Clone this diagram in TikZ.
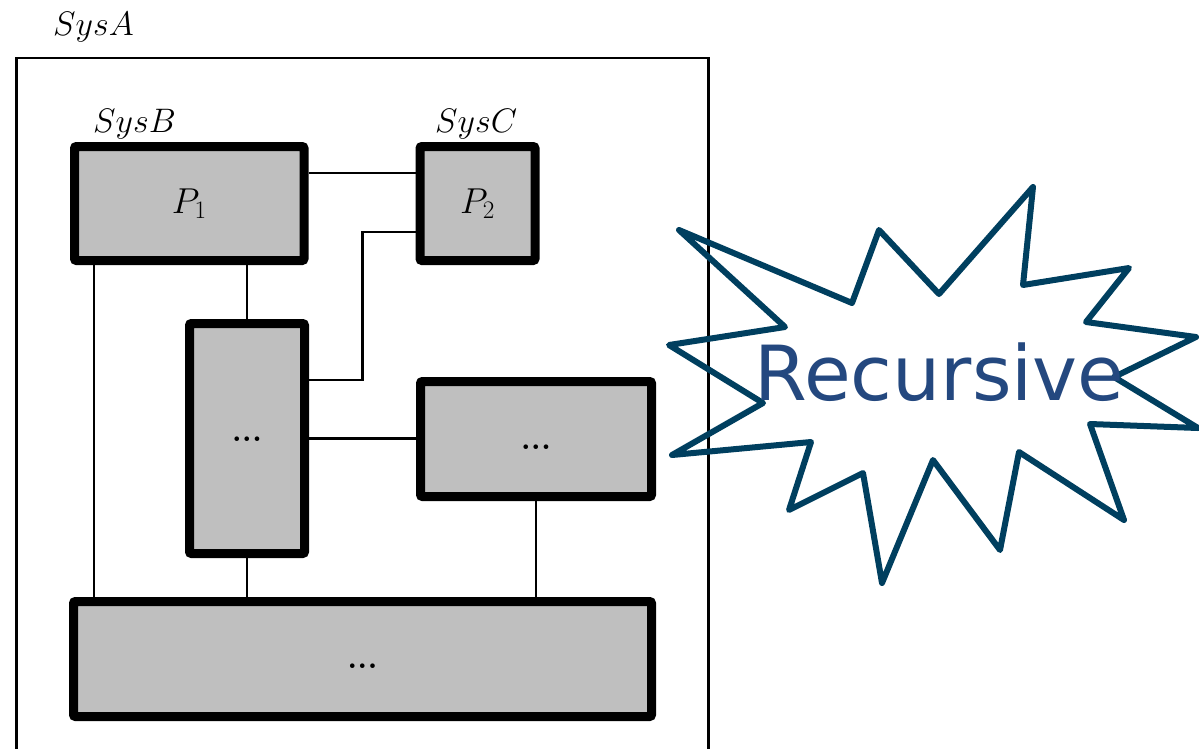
\RequirePackage{fix-cm}
\documentclass[tikz,border=0pt]{standalone}
\usepackage{fontspec}
\newfontfamily\bangfont{DejaVu Sans}
\definecolor{blockfill}{HTML}{BFBFBF}
\definecolor{bangline}{HTML}{003F5F}
\definecolor{bangtext}{HTML}{24487F}
\tikzset{
  frame/.style={draw=black, line width=2.6pt, inner sep=0pt},
  block/.style={draw=black, line width=9pt, fill=blockfill, rounded corners=2pt, inner sep=0pt},
  link/.style={draw=black, line width=2.8pt},
  syslabel/.style={anchor=base west, inner sep=0pt, font=\fontsize{34}{40}\selectfont},
  plabel/.style={font=\fontsize{36}{42}\selectfont},
  dotlabel/.style={font=\bfseries\fontsize{32}{40}\selectfont},
  bang/.style={draw=bangline, line width=6pt, line join=round},
}
\newcommand{\lowdots}[1]{\raisebox{-#1}[0pt][0pt]{...}}
\begin{document}
\begin{tikzpicture}[x=1pt,y=-1pt]
\useasboundingbox (0,0) rectangle (1199,748);

% enclosing system
\node[frame, minimum width=692pt, minimum height=694pt] (sysA) at (362.5,405) {};
\node[syslabel] (labA) at (53,35) {$SysA$};

% subsystems and components
\node[block, plabel, minimum width=229.5pt, minimum height=114pt] (p1) at (189.25,203.5) {$P_1$};
\node[block, plabel, minimum width=115pt, minimum height=114pt] (p2) at (477.5,203.5) {$P_2$};
\node[block, dotlabel, minimum width=115pt, minimum height=230pt] (mid) at (247,438.5) {\lowdots{3pt}};
\node[block, dotlabel, minimum width=231pt, minimum height=115pt] (right) at (536,439) {\lowdots{10pt}};
\node[block, dotlabel, minimum width=578pt, minimum height=115pt] (base) at (362.5,659) {\lowdots{9pt}};
\node[syslabel] (labB) at (93,132) {$SysB$};
\node[syslabel] (labC) at (435,132) {$SysC$};

% wiring
\coordinate (yTop) at (0,173);
\coordinate (yLow) at (0,232);
\coordinate (yMid) at (0,380);
\coordinate (bendX) at (362.5,0);
\coordinate (xLeft) at (94,0);
\draw[link] (p1.east |- yTop) -- (p2.west |- yTop);
\draw[link] (p2.west |- yLow) -| (bendX |- yMid) -- (mid.east |- yMid);
\draw[link] (mid.north) -- (mid.north |- p1.south);
\draw[link] (xLeft |- p1.south) -- (xLeft |- base.north);
\draw[link] (mid.east) -- (mid.east -| right.west);
\draw[link] (mid.south) -- (mid.south |- base.north);
\draw[link] (right.south) -- (right.south |- base.north);

% explosion callout
\draw[bang] (679,230) -- (852,303) -- (879,230) -- (939,294) -- (1033,187)
  -- (1023,285) -- (1129,268) -- (1086,322) -- (1196,337) -- (1114,377)
  -- (1198,428) -- (1090,424) -- (1124,520) -- (1019,452) -- (1000,550)
  -- (933,460) -- (882,583) -- (863,473) -- (789,510) -- (811,442)
  -- (672,455) -- (763,403) -- (669,345) -- (785,327) -- cycle;
\node[anchor=base, inner sep=0pt, text=bangtext, font=\bangfont\fontsize{76}{90}\selectfont] (rec) at (939.5,400) {Recursive};
\end{tikzpicture}
\end{document}
